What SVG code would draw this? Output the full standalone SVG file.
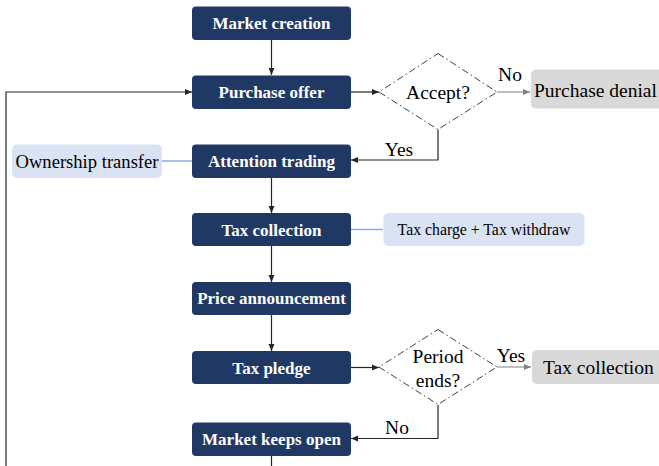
<svg xmlns="http://www.w3.org/2000/svg" width="659" height="466" viewBox="0 0 659 466">
<style>
.dk{fill:#203864;stroke:none}
.dt{font-family:"Liberation Serif",serif;font-weight:bold;font-size:17px;fill:#ffffff;text-anchor:middle}
.lb{fill:#dae3f3}
.gy{fill:#d9d9d9}
.t{font-family:"Liberation Serif",serif;font-size:19.5px;fill:#000000}
.ts{font-family:"Liberation Serif",serif;font-size:15.8px;fill:#000000}
.dia{fill:#ffffff;stroke:#404040;stroke-width:1;stroke-dasharray:7,3,1.5,3}
.ln{fill:none;stroke:#262626;stroke-width:1.2}
.gl{fill:none;stroke:#808080;stroke-width:1.2}
.bl{fill:none;stroke:#8faadc;stroke-width:1.5}
</style>
<defs>
<marker id="ab" markerWidth="8" markerHeight="8" refX="7" refY="4" orient="auto" markerUnits="userSpaceOnUse"><path d="M0,1 L7,4 L0,7 Z" fill="#262626"/></marker>
<marker id="ag" markerWidth="8" markerHeight="8" refX="7" refY="4" orient="auto" markerUnits="userSpaceOnUse"><path d="M0,1 L7,4 L0,7 Z" fill="#808080"/></marker>
</defs>
<g id="connectors">
<path class="ln" d="M271.5,40 V75" marker-end="url(#ab)"/>
<path class="ln" d="M6,466 V92 H192" marker-end="url(#ab)"/>
<path class="ln" d="M351,92 H379" marker-end="url(#ab)"/>
<path class="gl" d="M497,92 H530" marker-end="url(#ag)"/>
<path class="ln" d="M438,129.5 V160 H351" marker-end="url(#ab)"/>
<path class="bl" d="M162,161 H192"/>
<path class="ln" d="M271.5,178 V213" marker-end="url(#ab)"/>
<path class="bl" d="M351,229.5 H383"/>
<path class="ln" d="M271.5,246 V282" marker-end="url(#ab)"/>
<path class="ln" d="M271.5,315 V351" marker-end="url(#ab)"/>
<path class="ln" d="M351,367.5 H379" marker-end="url(#ab)"/>
<path class="gl" d="M497,367 H531" marker-end="url(#ag)"/>
<path class="ln" d="M438,405 V438.5 H351" marker-end="url(#ab)"/>
<path class="ln" d="M271.5,456 V466"/>
<text class="t" x="510" y="81" text-anchor="middle">No</text>
<text class="t" x="399" y="156" text-anchor="middle">Yes</text>
<text class="t" x="511" y="362" text-anchor="middle">Yes</text>
<text class="t" x="397" y="434" text-anchor="middle">No</text>
</g>
<g id="market-creation"><rect class="dk" x="192" y="6.5" width="159" height="33.5" rx="4"/><text class="dt" x="271.5" y="29">Market creation</text></g>
<g id="purchase-offer"><rect class="dk" x="192" y="75.5" width="159" height="33.5" rx="4"/><text class="dt" x="271.5" y="98">Purchase offer</text></g>
<g id="accept"><polygon class="dia" points="438,53.5 497,92 438,129.5 379,92"/><text class="t" x="438" y="98.5" text-anchor="middle">Accept?</text></g>
<g id="purchase-denial"><rect class="gy" x="531" y="69.5" width="135" height="39" rx="5"/><text class="t" x="534" y="96.5">Purchase denial</text></g>
<g id="ownership-transfer"><rect class="lb" x="12" y="144.5" width="150" height="33.5" rx="5"/><text class="t" x="87" y="167.5" text-anchor="middle" style="font-size:18.6px">Ownership transfer</text></g>
<g id="attention-trading"><rect class="dk" x="192" y="144.5" width="159" height="33.5" rx="4"/><text class="dt" x="271.5" y="167">Attention trading</text></g>
<g id="tax-collection"><rect class="dk" x="192" y="213" width="159" height="33" rx="4"/><text class="dt" x="271.5" y="235.5">Tax collection</text></g>
<g id="tax-charge"><rect class="lb" x="383.5" y="213" width="201" height="33" rx="5"/><text class="ts" x="484" y="235" text-anchor="middle">Tax charge + Tax withdraw</text></g>
<g id="price-announcement"><rect class="dk" x="192" y="282" width="159" height="33" rx="4"/><text class="dt" x="271.5" y="304">Price announcement</text></g>
<g id="tax-pledge"><rect class="dk" x="192" y="351" width="159" height="33" rx="4"/><text class="dt" x="271.5" y="373.5">Tax pledge</text></g>
<g id="period-ends"><polygon class="dia" points="438,329.5 497,367 438,404.5 379,367"/><text class="t" x="438" y="363" text-anchor="middle">Period</text><text class="t" x="438" y="386.5" text-anchor="middle">ends?</text></g>
<g id="tax-collection-end"><rect class="gy" x="532" y="350" width="135" height="34" rx="5"/><text class="t" x="543" y="373.5">Tax collection</text></g>
<g id="market-keeps-open"><rect class="dk" x="192" y="422.5" width="159" height="33.5" rx="4"/><text class="dt" x="271.5" y="445">Market keeps open</text></g>
</svg>
